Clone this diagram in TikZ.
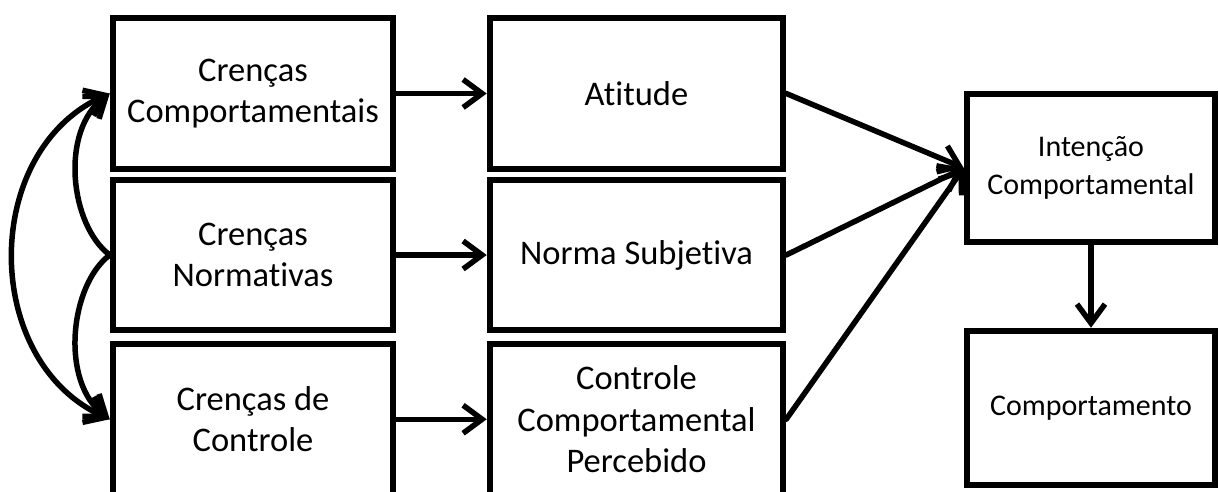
\documentclass[tikz,border=0pt]{standalone}
\usepackage{fontspec}
\setmainfont[Ligatures=NoCommon]{Carlito}
\usetikzlibrary{arrows.meta,calc}
\begin{document}
\begin{tikzpicture}[x=1pt,y=-1pt,
  box/.style={draw,line width=6pt,inner sep=0pt,align=center,font=\fontsize{34.5}{41.5}\selectfont},
  lcol/.style={box,minimum width=280.5pt},
  mcol/.style={box,minimum width=293.5pt},
  rcol/.style={box,minimum width=248.5pt,font=\fontsize{30}{37.5}\selectfont},
  tipx/.tip={Straight Barb[length=19pt,width=28pt]},
  arr/.style={line width=5.5pt,line cap=round,-tipx},
  darr/.style={line width=5.5pt,line cap=round,tipx-tipx}]
\useasboundingbox (0,0) rectangle (1219,491);
\clip (0,0) rectangle (1219,491);
\fill[white] (0,0) rectangle (1219,491);
% left column
\node[lcol,minimum height=151.5pt] (b1) at (253,93.5) {Crenças\\Comportamentais};
\node[lcol,minimum height=150.5pt] (b2) at (253,255) {Crenças\\Normativas};
\node[lcol,minimum height=151pt] (b3) at (253,419.25) {Crenças de\\Controle};
% middle column
\node[mcol,minimum height=151.5pt] (m1) at (636.5,93.5) {Atitude};
\node[mcol,minimum height=150.5pt] (m2) at (636.5,255) {Norma Subjetiva};
\node[mcol,minimum height=151pt] (m3) at (636.5,419.25) {Controle\\Comportamental\\Percebido};
% right column
\node[rcol,minimum height=148.5pt] (int) at (1091,168) {Intenção\\Comportamental};
\node[rcol,minimum height=154.5pt] (comp) at (1091,408) {Comportamento};
% horizontal arrows
\draw[arr] (b1.east) -- (m1.west);
\draw[arr] (b2.east) -- (m2.west);
\draw[arr] (b3.east) -- (m3.west);
% converging arrows
\draw[arr] (m1.east) -- (int.west);
\draw[arr] (m2.east) -- (int.west);
\draw[arr] (m3.east) -- (int.west);
% down arrow
\draw[arr] (int.south) -- (comp.north);
% curved arrows on the left
\draw[arr] (b2.west) .. controls ($(b2.west)+(-40,-30)$) and ($(b1.west)+(-50,37)$) .. (b1.west);
\draw[arr] (b2.west) .. controls ($(b2.west)+(-40,30)$) and ($(b3.west)+(-50,-37)$) .. (b3.west);
\draw[darr] (b1.west) .. controls ($(b1.west)+(-129,57)$) and ($(b3.west)+(-129,-58)$) .. (b3.west);
\end{tikzpicture}
\end{document}
